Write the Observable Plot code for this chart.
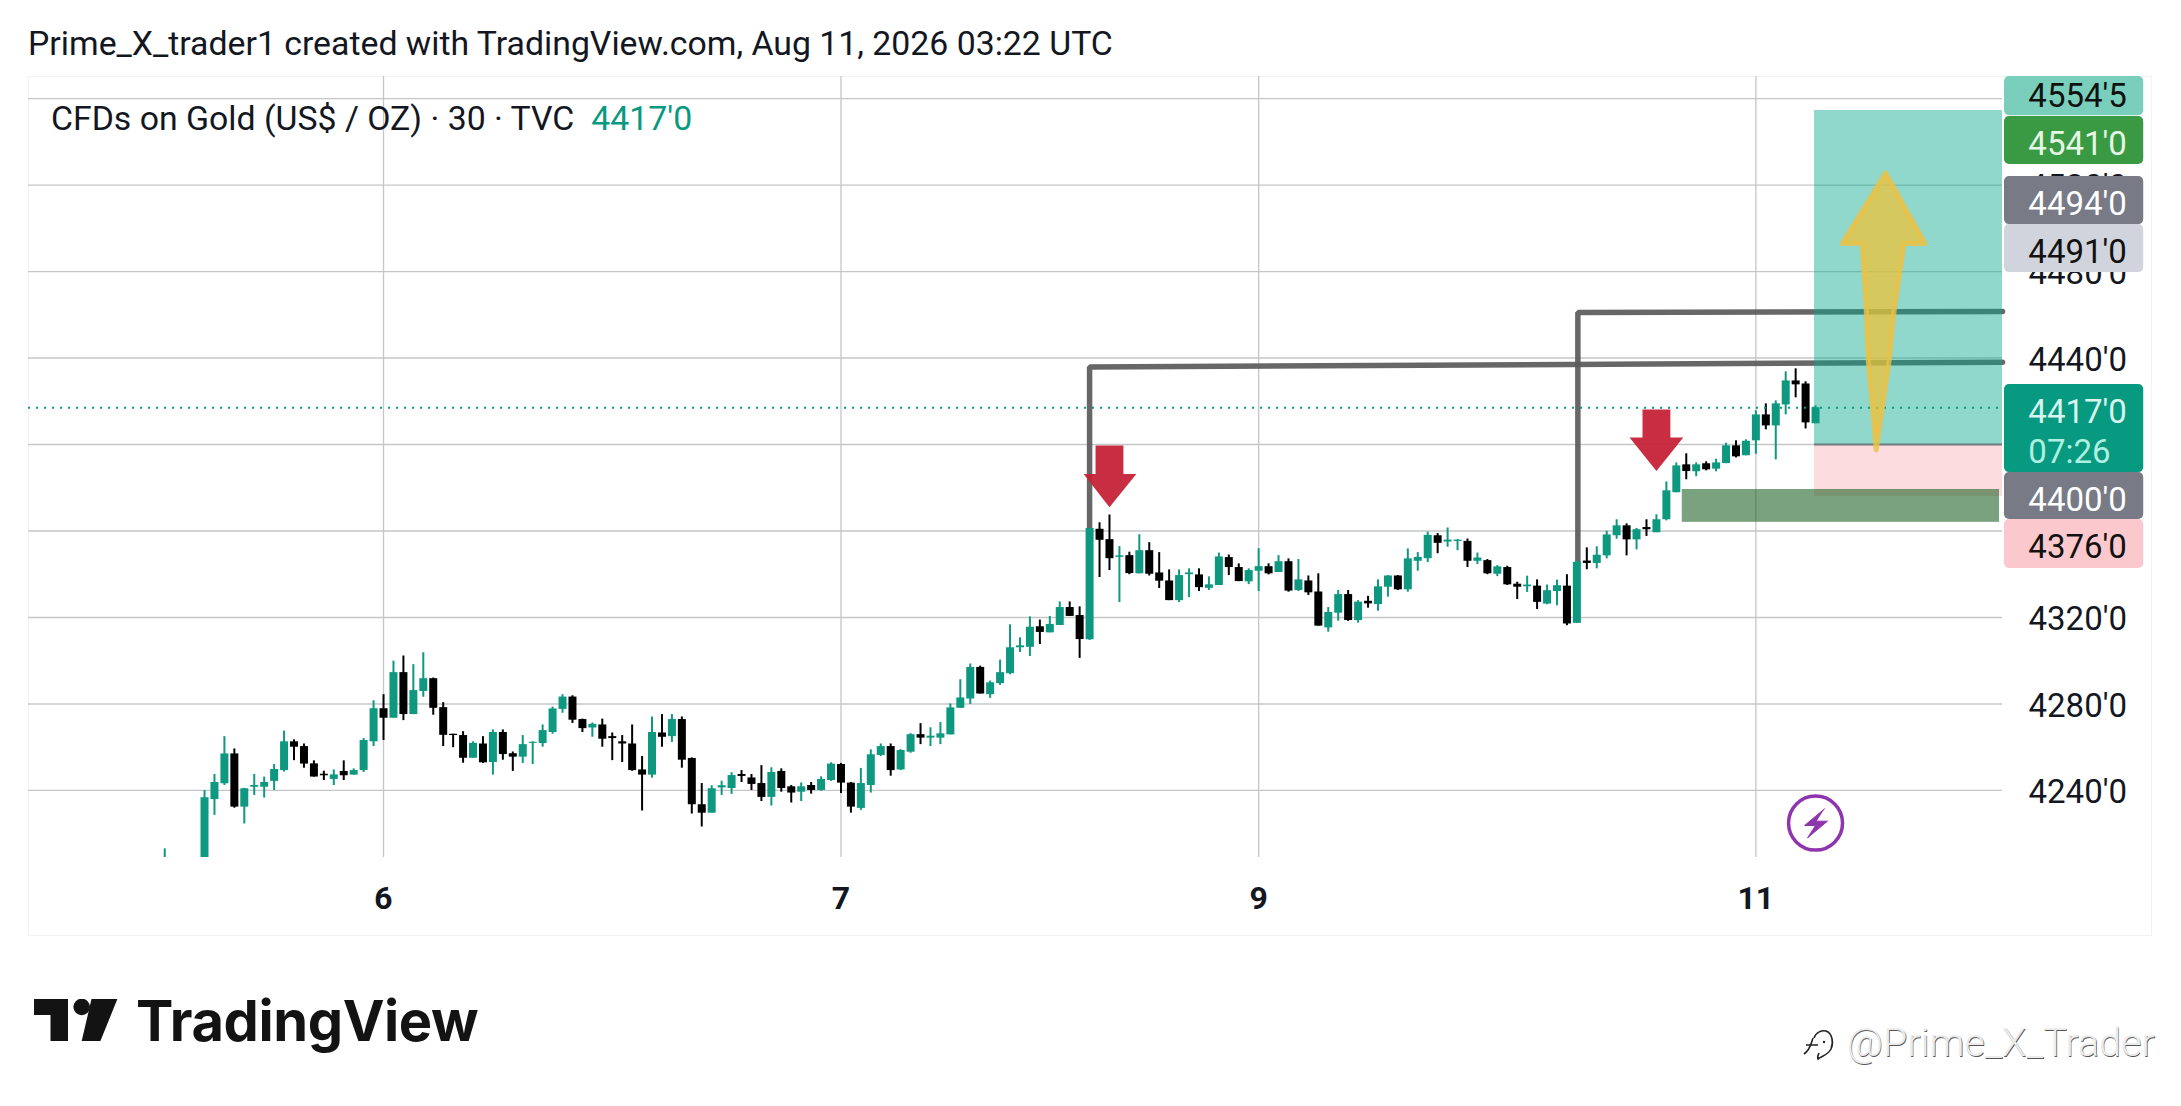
<!DOCTYPE html>
<html>
<head>
<meta charset="utf-8">
<script src="https://cdn.jsdelivr.net/npm/d3@7"></script>
<script src="https://cdn.jsdelivr.net/npm/@observablehq/plot@0.6"></script>
<style>
html,body{margin:0;padding:0;background:#fff;width:2181px;height:1106px;overflow:hidden}
body{position:relative;font-family:Roboto,sans-serif;color:#131722}
#panel{position:absolute;left:28px;top:76px;width:2124px;height:860px;border:1.5px solid #f0f3f6;box-sizing:border-box}
#chart{position:absolute;left:0;top:76px}
#title{position:absolute;left:28px;top:23px;font-size:33.8px;line-height:42px;white-space:nowrap}
#legend{position:absolute;left:51px;top:98px;font-size:33.8px;line-height:42px;white-space:nowrap}
#legend span{color:#089981;margin-left:17px}
#logo{position:absolute;left:34px;top:999px}
#brand{position:absolute;left:136px;top:987px;font-family:Inter,sans-serif;font-weight:700;font-size:56px;line-height:68px;color:#131313;letter-spacing:-.4px}
#mark{position:absolute;left:1847px;top:1018px;font-size:39.5px;font-weight:300;line-height:50px;color:#ececec;text-shadow:.6px .6px 0 #555;white-space:nowrap}
#markicon{position:absolute;left:1798px;top:1022px}
</style>
</head>
<body>
<div id="panel"></div>
<div id="title">Prime_X_trader1 created with TradingView.com, Aug 11, 2026 03:22 UTC</div>
<div id="chart"></div>
<div id="legend">CFDs on Gold (US$ / OZ) · 30 · TVC<span>4417'0</span></div>
<svg id="logo" width="86" height="44" viewBox="34 999 86 44"><path fill="#131313" d="M34 999H68V1041H50.5V1015H34Z M91.5 999H117.4L100.4 1041H81.7Z"/><circle cx="81.7" cy="1007" r="8.3" fill="#131313"/></svg>
<div id="brand">TradingView</div>
<svg id="markicon" width="44" height="44" viewBox="0 0 44 44"><path fill="none" stroke="#222" stroke-width="1.6" d="M16 16C18 10 24 8 28 9C34 11 36 20 33 27C30 33 24 34 20 37C19 35 20 33 21 31M8 23H20M15 16C13 22 12 28 6 32"/><circle cx="26" cy="20" r="1.2" fill="#222"/></svg>
<div id="mark">@Prime_X_Trader</div>
<script>
const opens = [4206,null,null,null,4195,
4235.8,4243.1,4256.9,4232.3,4241.5,4241.5,4244.2,4249.2,4262.5,4260.3,4252.3,4247.5,4245.1,4248.8,4247.1,4249.2,4262.5,4277.8,4273.4,4294.5,4275.1,4285.8,4291.7,4278.3,4266,4265.4,4254.9,4261.5,4252.9,4266.8,4257,4255.4,4261.8,4261.7,4266.8,4277.5,4283.2,
4272.8,4268.9,4270.3,4264.9,4262.5,4261.5,4249.5,4247.1,4266.6,4264.9,4272.8,4254.8,4233.4,4229.5,4241.2,4240.9,4247.4,4245.8,4243.2,4236.8,4248.8,4241.7,4239.2,4242.3,4240,4244.6,4252,4243.4,4231.7,4242.3,4256.2,4260.3,4249.5,4257.7,4265.8,4264.2,4264.2,4265.7,4278,4282.3,4296.9,4284.3,4289.4,4294,4306,4306.2,4315.7,
4312.9,4316.3,4324.6,4320.9,4309.7,4360.8,4356,4347.8,4348.6,4340.2,4350.9,4340.6,4336.9,4327.8,4339.8,4339.7,4333.5,4334.8,4347.7,4343.1,4336.5,4341.4,4343.5,4340.8,4345.8,4332.5,4336.9,4331.8,4315.2,4322,4330.6,4318.6,4327.5,4326,4334,4339.2,4332.8,4346,4347.2,4357.8,4354.9,4355.2,4355.2,4346,4346.3,4340,4343.1,4335.4,
4334.2,4334.5,4326.2,4332,4334.5,4317.3,4346.1,4345,4348.5,4357.8,4362.4,4355.9,4361.6,4359.2,4365.2,4377.7,4390.6,4387.4,4391.1,4388.6,4391.2,4399.4,4394.8,4401.7,4413.7,4408.6,4418.3,4429.4,4428,4409.6];
const closes = [4207,null,null,null,4236.6,
4243.7,4256.9,4232.3,4240.8,4242.3,4243.7,4249.7,4262.5,4260,4252.2,4246.2,4246.8,4247.2,4246.8,4249.2,4263.1,4277.8,4273.4,4294.5,4275.1,4286.2,4291.7,4278,4265.5,4265.4,4254.9,4261.8,4252.8,4266.8,4256.6,4255.4,4261.2,4262.3,4267.7,4277.7,4283.2,4272.5,
4268.6,4270.6,4263.7,4264,4261.5,4249.2,4247.1,4266.8,4264.6,4272.8,4254,4233.4,4229.5,4240.8,4242.2,4246.9,4246.5,4242.8,4236.8,4248.3,4240.9,4238.8,4241.7,4240,4245.1,4252.2,4243.4,4232.3,4243.2,4256.5,4260.3,4249.2,4258.5,4265.8,4264.2,4265.1,4266.2,4278.2,4282.8,4296.9,4284.6,4289.8,4294.5,4306,4306.9,4315.5,4313.1,
4316.8,4324.6,4320.5,4309.8,4361.1,4355.7,4347.2,4348.5,4340.3,4350.9,4340,4336.8,4327.8,4339.4,4340.6,4333.8,4335.1,4348,4343.1,4336.6,4341.7,4343.5,4340.2,4345.8,4332.2,4337.4,4331.4,4316,4322.3,4330.6,4318.6,4327.1,4326.3,4334.2,4339.2,4332.8,4347.1,4347.8,4358,4354.3,4355.8,4355.8,4346,4347.5,4340.2,4343.4,4335.1,4334,
4335,4327,4332.4,4334.7,4317,4345.5,4345,4348.8,4358.2,4362.4,4355.9,4360.6,4360.6,4365.2,4378.6,4390.1,4387.5,4390.6,4388.3,4391.5,4399.4,4394.3,4401.5,4413.7,4408.6,4418.8,4429.4,4427.6,4410,4417];
const highs = [4213,null,null,null,4240,
4247.4,4264.9,4259.2,4241,4247.4,4246.2,4252,4267.5,4263.4,4261.5,4253.7,4248.9,4249.5,4253.7,4250,4264,4281.5,4284.3,4299.8,4302.2,4298.2,4303.7,4292,4280.6,4266,4267.2,4262.5,4264.9,4268,4268,4257.8,4265.4,4262.5,4270.3,4278.6,4284.3,4283.8,
4273,4271.2,4273,4266.6,4265.4,4270.3,4255.7,4274,4275.1,4275.1,4274,4255.1,4243.2,4242.2,4244.3,4248.2,4249.2,4247.4,4251.5,4250.5,4250,4242.3,4243.5,4243.7,4246.3,4252.8,4252.5,4243.7,4250.2,4258.8,4261.5,4261.5,4258.9,4266.3,4270.9,4269,4271.4,4280,4291.2,4298.5,4297.5,4290.6,4300.3,4316.6,4310.6,4320.3,4318.8,
4320.5,4327.2,4327.2,4324.9,4361.2,4363.8,4367.4,4352.8,4350.2,4358.3,4354.6,4350,4342,4342,4342.5,4342.5,4338.8,4349.8,4348.9,4344.8,4342.5,4351.8,4344.8,4348.6,4347.1,4346.8,4339.2,4340.2,4324.6,4332.5,4332.5,4327.8,4329.8,4337.4,4339.4,4339.4,4351.7,4350,4359.5,4358.8,4361.4,4356,4356.3,4349.8,4346.8,4344,4343.7,4336.3,
4339.1,4337.4,4335,4337.3,4339.8,4346.2,4352.2,4352.7,4359.9,4365.2,4363.3,4361.2,4365.2,4367.5,4382.7,4391.5,4395.7,4391.5,4392,4393.2,4400.6,4401.7,4402.2,4415.6,4418.8,4420.2,4433.6,4435,4429,4417.9];
const lows = [4200,null,null,null,4190,
4228.5,4242.3,4231.8,4224.5,4237.7,4236.5,4240,4248.5,4253.8,4250.3,4246.2,4244.6,4242.3,4244.6,4247.1,4248.3,4260.3,4263.1,4273.4,4272.3,4275.1,4283.1,4274.8,4260.3,4259.8,4252.6,4254.9,4252.5,4247.1,4254,4248.8,4252.5,4252,4260,4266,4275.7,4271,
4266.8,4264.6,4260,4253.8,4252.9,4248.9,4230.5,4245.7,4260,4262.2,4250.3,4229.1,4223.1,4229.5,4237.7,4238.2,4243.7,4240,4234.9,4232.8,4239.2,4234.2,4234.9,4238.3,4239.7,4244.2,4238.6,4229.5,4230.8,4238.8,4255.7,4246.6,4249.2,4257.2,4261.2,4260.3,4261.2,4265.7,4278,4279.8,4284.6,4282.6,4288.6,4293.5,4303.8,4302,4307.5,
4312.9,4316.3,4320.5,4301.1,4309.4,4338.5,4341.7,4326.9,4339.8,4340.2,4339.2,4333.4,4327.8,4326.9,4329.2,4332,4332.5,4334.8,4339.4,4336.6,4335.2,4332,4339.7,4340.8,4331.7,4332,4330.2,4316,4313.2,4318.3,4318.2,4317.4,4324.3,4322.9,4329.4,4332.5,4331.7,4341.4,4345.4,4349.5,4352.5,4350.9,4343.1,4344.5,4339.8,4338.9,4334.8,4328.3,
4331.6,4323.7,4325.9,4325.4,4316.2,4317.3,4342.1,4342.5,4347.1,4356.2,4348.5,4351.3,4357.5,4359.2,4364.7,4377.7,4383.7,4385.1,4387.8,4387.4,4391.1,4393.8,4394.8,4395.5,4406.8,4392.9,4413.7,4421.6,4407.2,4409.6];

const priceTicks = [4240,4280,4320,4360,4400,4440,4480,4520,4560];
const priceLabels = [4240,4280,4320,4440,4480,4520];
const dayBars = [22,68,110,160];
const dayLabels = ["6","7","9","11"];
const lastPrice = 4417;

// price badges on the right scale
const badgeLabels = ["4554'5","4541'0","4494'0","4491'0","4417'0","4400'0","4376'0"];
const badgeTops = [4570.2,4551.7,4523.9,4501.7,4427.7,4387,4365.3];
const badgeBottoms = [4552.1,4529.5,4501.7,4479.5,4387,4365.3,4342.7];
const badgeTextAt = [4561.9,4539.6,4511.9,4489.7,4415.7,4375,4353.3];
const badgeFills = ["#7acfbc","#3a9a44","#787b86","#d1d4dc","#089981","#787b86","#fbc9cd"];
const badgeInks = ["#111","#e4f7e4","#fff","#111","#d6f5ee","#fff","#111"];
const countdown = {label:"07:26", at:4397.2};

// drawings
const resistanceA = [{i:93,p:4361},{i:93,p:4435.8},{i:184.8,p:4438.1}];
const resistanceB = [{i:142.1,p:4345.4},{i:142.1,p:4461},{i:184.8,p:4461.5}];
const redArrowA = [[93.6,4399.5],[96.4,4399.5],[96.4,4386.4],[97.7,4386.4],[95,4371],[92.4,4386.4],[93.6,4386.4]];
const redArrowB = [[148.6,4416.2],[151.4,4416.2],[151.4,4403.2],[152.7,4403.2],[150,4387.8],[147.3,4403.2],[148.6,4403.2]];
const yellowArrow = [[173.05,4525.5],[177,4493],[174.9,4493],[173.9,4462],[173.4,4438.8],[172.1,4397.5],[171.3,4438.8],[171.1,4462],[170.7,4493],[168.7,4493]];
const bolt = [[166.9,4231.5],[164.9,4223.8],[166,4223.8],[165.2,4218.1],[167.2,4225.8],[166.1,4225.8]];
const position = {x1:165.9,x2:184.8,target:4554.5,entry:4400,stop:4376};
const zone = {x1:152.6,x2:184.5,top:4379.2,bottom:4364};

const bars = opens.map((o,i)=>({i,o,h:highs[i],l:lows[i],c:closes[i],dir:closes[i]>=o?"up":"down"})).filter(d=>d.o!=null);
const UP="#0f9880", DOWN="#000", GRID="#c5c6c8";
const xDomain=[-13.7,184.8], yDomain=[4209,4570.2];

const badgeMarks = badgeLabels.flatMap((t,k)=>[
  Plot.rect([0],{x1:185,x2:199,y1:badgeBottoms[k],y2:badgeTops[k],fill:badgeFills[k],rx:5}),
  Plot.text([t],{x:187.4,y:badgeTextAt[k],dy:2,text:d=>d,fill:badgeInks[k],textAnchor:"start",fontSize:33})
]);

const chart = Plot.plot({
  width:2181,height:860,marginTop:0,marginBottom:79,marginLeft:28,marginRight:179,
  style:{background:"transparent",fontFamily:"Roboto,sans-serif"},
  x:{domain:xDomain,label:null},
  y:{domain:yDomain,label:null},
  color:{domain:["up","down"],range:[UP,DOWN]},
  marks:[
    Plot.ruleY(priceTicks,{stroke:GRID,strokeWidth:1.3}),
    Plot.ruleX(dayBars,{stroke:GRID,strokeWidth:1.3}),
    Plot.axisY({anchor:"right",ticks:priceLabels,tickSize:0,tickPadding:26,fontSize:33,dy:2,fill:"#131722",label:null,tickFormat:d=>`${d}'0`}),
    Plot.axisX({anchor:"bottom",ticks:dayBars,tickSize:0,tickPadding:29,fontSize:32,fontWeight:700,fill:"#131722",label:null,tickFormat:d=>dayLabels[dayBars.indexOf(d)]}),
    Plot.line(resistanceA,{x:"i",y:"p",stroke:"#5a5a5a",strokeWidth:5.5,strokeOpacity:.92,strokeLinejoin:"miter"}),
    Plot.line(resistanceB,{x:"i",y:"p",stroke:"#5a5a5a",strokeWidth:5.5,strokeOpacity:.92,strokeLinejoin:"miter"}),
    Plot.rect([position],{x1:"x1",x2:"x2",y1:"entry",y2:"target",fill:"#08a88c",fillOpacity:.45}),
    Plot.rect([position],{x1:"x1",x2:"x2",y1:"stop",y2:"entry",fill:"#f7525f",fillOpacity:.2}),
    Plot.ruleY([position.entry],{x1:position.x1,x2:position.x2,stroke:"#6f7f80",strokeWidth:2}),
    Plot.rect([zone],{x1:"x1",x2:"x2",y1:"bottom",y2:"top",fill:"#1b5e20",fillOpacity:.58}),
    Plot.ruleX(bars,{x:"i",y1:"l",y2:"h",stroke:"dir",strokeWidth:2,clip:"frame"}),
    Plot.ruleX(bars,{x:"i",y1:"o",y2:"c",stroke:"dir",strokeWidth:8,clip:"frame"}),
    Plot.ruleY([lastPrice],{stroke:"#089981",strokeWidth:1.8,strokeDasharray:"2 6"}),
    Plot.line(redArrowA,{x:"0",y:"1",fill:"#c62238",fillOpacity:.95,stroke:"none"}),
    Plot.line(redArrowB,{x:"0",y:"1",fill:"#c62238",fillOpacity:.95,stroke:"none"}),
    Plot.line(yellowArrow.concat([yellowArrow[0]]),{x:"0",y:"1",fill:"#eec233",fillOpacity:.72,stroke:"#ecc043",strokeOpacity:.8,strokeWidth:5,strokeLinejoin:"round"}),
    Plot.dot([0],{x:166,y:4224.9,r:27,stroke:"#8e35ad",strokeWidth:3.5,fill:"white"}),
    Plot.line(bolt,{x:"0",y:"1",fill:"#8e35ad",stroke:"#8e35ad",strokeWidth:1}),
    ...badgeMarks,
    Plot.text([countdown.label],{x:187.4,y:countdown.at,dy:2,text:d=>d,fill:"#aef0e0",textAnchor:"start",fontSize:33})
  ]
});
document.getElementById("chart").append(chart);
</script>
</body>
</html>
